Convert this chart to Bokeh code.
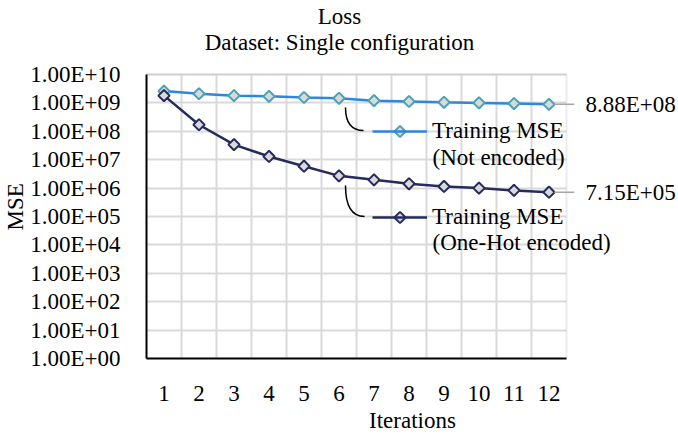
import numpy as np
from bokeh.plotting import figure
from bokeh.models import (FixedTicker, Label, Legend, LegendItem, Arrow, BoxAnnotation, Grid, Title)
from bokeh.core.properties import value
from bokeh.embed import file_html
from bokeh.resources import INLINE

# ---------------- data ----------------
iterations = list(range(1, 13))
mse_not_encoded = [2.6e9, 2.1e9, 1.8e9, 1.7e9, 1.55e9, 1.45e9, 1.2e9, 1.12e9, 1.05e9, 1.0e9, 9.5e8, 8.88e8]
mse_one_hot = [1.8e9, 1.7e8, 3.4e7, 1.3e7, 5.9e6, 2.7e6, 1.95e6, 1.42e6, 1.14e6, 1.0e6, 8.3e5, 7.15e5]
series_names = ["Training MSE", "Training MSE"]
series_notes = ["(Not encoded)", "(One-Hot encoded)"]
y_tick_values = [10.0 ** k for k in range(0, 11)]
y_tick_labels = ["1.00E+%02d" % k for k in range(0, 11)]
x_tick_labels = [str(i) for i in iterations]
title_text = "Loss"
subtitle_text = "Dataset: Single configuration"
x_title = "Iterations"
y_title = "MSE"

# ---------------- style / layout ----------------
FONT = "Liberation Serif"
FS = "23px"
C_NOT = "#2e86de"
M_NOT = "#4aa3b5"
C_HOT = "#252b5c"
FILL = "#d9d9d9"
GRID = "#d9d9d9"
BORDER = "#bfbfbf"

W, H = 678, 439
LEFT, BOTTOM = 146, 81            # margins for axes
PX_PER_CAT, PX_PER_DEC = 35.0, 28.4
FRAME_W, FRAME_H = W - LEFT, H - BOTTOM
X0 = iterations[0] - 0.5
XP = iterations[-1] + 0.5                      # right edge of plot area
X1 = X0 + FRAME_W / PX_PER_CAT                 # frame extends to canvas edge
Y0, YP = y_tick_values[0], y_tick_values[-1]
Y1 = 10 ** (np.log10(Y0) + FRAME_H / PX_PER_DEC)


def to_data(sx, sy):
    """frame-relative screen px (from bottom-left) -> data coords"""
    return X0 + sx / PX_PER_CAT, 10 ** (np.log10(Y0) + sy / PX_PER_DEC)


p = figure(width=W, height=H, y_axis_type="log", title=None,
           x_range=(X0, X1), y_range=(Y0, Y1),
           output_backend="svg", toolbar_location=None,
           min_border_left=LEFT, min_border_right=0,
           min_border_top=0, min_border_bottom=BOTTOM)
p.background_fill_color = "white"
p.border_fill_color = "white"
p.outline_line_color = None

# axes
p.xaxis.ticker = FixedTicker(ticks=iterations)
p.xaxis.major_label_overrides = {i: lbl for i, lbl in zip(iterations, x_tick_labels)}
p.xaxis.bounds = (X0, XP)
p.yaxis.ticker = FixedTicker(ticks=y_tick_values)
p.yaxis.major_label_overrides = {v: lbl for v, lbl in zip(y_tick_values, y_tick_labels)}
p.yaxis.bounds = (Y0, YP)
for ax in (p.xaxis, p.yaxis):
    ax.axis_line_color = "black"
    ax.axis_line_width = 2
    ax.major_tick_line_color = None
    ax.minor_tick_line_color = None
    ax.major_tick_out = 0
    ax.major_tick_in = 0
    ax.major_label_text_font = FONT
    ax.major_label_text_font_size = FS
    ax.major_label_text_color = "black"
    ax.axis_label_text_font = FONT
    ax.axis_label_text_font_size = FS
    ax.axis_label_text_font_style = "normal"
    ax.axis_label_text_color = "black"
p.yaxis.major_label_standoff = 26
p.xaxis.major_label_standoff = 27
p.xaxis.axis_label = x_title
p.xaxis.axis_label_standoff = 4

# y-axis title, placed beside the axis and centred on the plot area
p.add_layout(Title(text=y_title, align="left", offset=128, standoff=0,
                   vertical_align="bottom", text_font=FONT, text_font_size=FS,
                   text_font_style="normal", text_color="black"), "left")

# grids
p.ygrid.ticker = FixedTicker(ticks=y_tick_values)
p.xgrid.ticker = FixedTicker(ticks=[i + 0.5 for i in iterations[:-1]])
for g in (p.xgrid, p.ygrid):
    g.grid_line_color = GRID
    g.grid_line_width = 2
if "cross_bounds" in Grid.properties():
    p.xgrid.cross_bounds = (Y0, YP)
    p.ygrid.cross_bounds = (X0, XP)
else:
    p.add_layout(BoxAnnotation(left=XP, fill_color="white", fill_alpha=1,
                               line_color=None, level="underlay"))
    p.add_layout(BoxAnnotation(bottom=YP, fill_color="white", fill_alpha=1,
                               line_color=None, level="underlay"))
# plot-area border
p.add_layout(BoxAnnotation(left=X0, right=XP, bottom=Y0, top=YP, fill_alpha=0,
                           line_color=BORDER, line_width=2, level="underlay"))

# series
r1 = p.line(iterations, mse_not_encoded, line_color=C_NOT, line_width=2.5)
p.scatter(iterations, mse_not_encoded, marker="square", angle=np.pi / 4, size=8,
          fill_color=FILL, line_color=M_NOT, line_width=2)
r2 = p.line(iterations, mse_one_hot, line_color=C_HOT, line_width=2.5)
p.scatter(iterations, mse_one_hot, marker="square", angle=np.pi / 4, size=8,
          fill_color=FILL, line_color=C_HOT, line_width=2)

# legends (data-label style, inside plot)
GLYPH_W, ROW_H = 55, 26
for rend, name, loc, mcol in [(r1, series_names[0], (226, 214), M_NOT),
                              (r2, series_names[1], (226, 128), C_HOT)]:
    leg = Legend(items=[LegendItem(label=value(name), renderers=[rend])],
                 location=loc, glyph_width=GLYPH_W, glyph_height=ROW_H, label_height=ROW_H,
                 label_standoff=5, padding=0, margin=0, spacing=0,
                 border_line_color=None, background_fill_alpha=0,
                 label_text_font=FONT, label_text_font_size=FS, label_text_color="black")
    p.add_layout(leg, "center")
    kx, ky = to_data(loc[0] + GLYPH_W / 2, loc[1] + ROW_H / 2)
    p.scatter([kx], [ky], marker="square", angle=np.pi / 4, size=8, level="overlay",
              fill_color=FILL, line_color=mcol, line_width=2)

for note, sy in [(series_notes[0], 201), (series_notes[1], 116)]:
    p.add_layout(Label(x=286, y=sy, x_units="screen", y_units="screen", text=note,
                       text_font=FONT, text_font_size=FS, text_color="black",
                       text_baseline="middle", text_align="left"))

# leader curves from series to their labels
for (sx0, sy0), (sx1, sy1) in [((199, 251), (217, 228)), ((199, 173), (218, 142))]:
    xa, ya = to_data(sx0, sy0)
    xb, yb = to_data(sx1, sy1)
    xc, yc = to_data(sx0, sy1)
    p.quadratic(x0=[xa], y0=[ya], x1=[xb], y1=[yb], cx=[xc], cy=[yc],
                line_color="black", line_width=1.5)

# end value labels
for v in (mse_not_encoded[-1], mse_one_hot[-1]):
    p.add_layout(Arrow(end=None, x_start=iterations[-1] + 0.15, y_start=v,
                       x_end=iterations[-1] + 0.72, y_end=v,
                       line_color="#a6a6a6", line_width=1.5))
    p.add_layout(Label(x=439, y=v, x_units="screen", y_units="data", text=f"{v:.2E}",
                       text_font=FONT, text_font_size=FS, text_color="black",
                       text_baseline="middle", text_align="left"))

# titles (centred on the chart area)
for txt, sy in [(title_text, 342), (subtitle_text, 316)]:
    p.add_layout(Label(x=W / 2 - LEFT, y=sy, x_units="screen", y_units="screen", text=txt,
                       text_font=FONT, text_font_size=FS, text_color="black",
                       text_baseline="middle", text_align="center"))

open("out.html", "w").write(file_html(p, INLINE))
